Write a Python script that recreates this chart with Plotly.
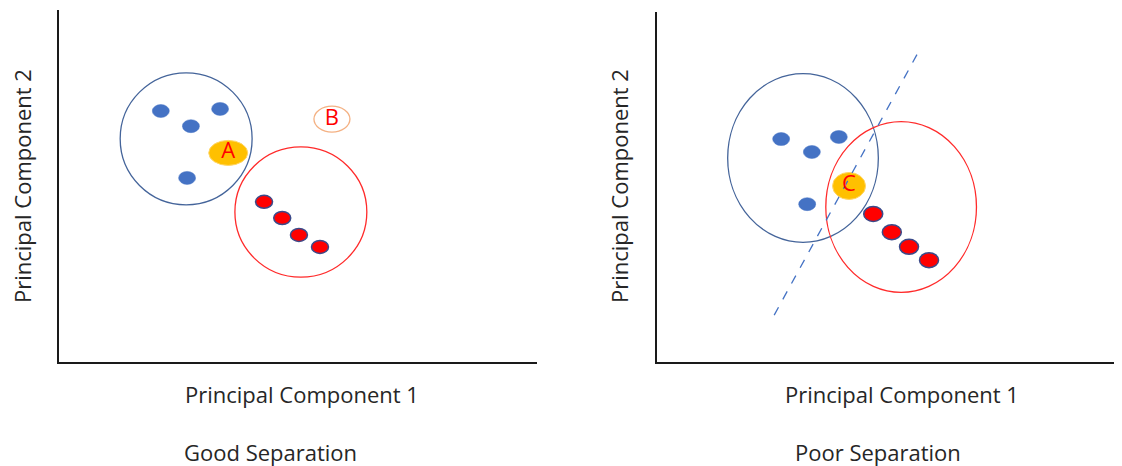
import plotly.graph_objects as go

# ---------------- data (axis units 0..100) ----------------
# Left panel: Good Separation
good_blue_x = [21.3, 27.6, 33.7, 26.8]
good_blue_y = [71.3, 67.0, 71.9, 52.3]
good_red_x = [42.9, 46.7, 50.2, 54.6]
good_red_y = [45.5, 40.9, 36.1, 32.7]
good_labels = ["A", "B"]
good_label_x = [35.4, 57.1]
good_label_y = [59.4, 69.0]
good_cluster_cx = [26.6, 50.6]
good_cluster_cy = [63.4, 42.6]
good_cluster_rx = [13.8, 13.8]
good_cluster_ry = [18.75, 18.5]

# Right panel: Poor Separation
poor_blue_x = [26.7, 33.3, 39.1, 32.3]
poor_blue_y = [63.7, 60.0, 64.3, 45.1]
poor_red_x = [46.5, 50.5, 54.2, 58.5]
poor_red_y = [42.3, 37.1, 32.9, 29.1]
poor_labels = ["C"]
poor_label_x = [41.3]
poor_label_y = [50.3]
poor_cluster_cx = [31.4, 52.5]
poor_cluster_cy = [58.3, 44.3]
poor_cluster_rx = [16.2, 16.2]
poor_cluster_ry = [24.1, 24.4]
poor_line_x = [25.2, 56.1]
poor_line_y = [13.4, 88.3]

x_title = "Principal Component 1"
y_title = "Principal Component 2"
panel_titles = ["Good Separation", "Poor Separation"]

# ---------------- figure ----------------
OFF = 8  # page body margin
W, H = 1122 - OFF, 466 - OFF
FONT = "Open Sans"
TXT = "#262626"

fig = go.Figure()

# axis pixel extents (screen px)
L = dict(x0=59, x1=537, ytop=10, ybot=362)
R = dict(x0=657, x1=1122, ytop=12, ybot=362)

def px(x):
    return (x - OFF) / W

def py(y):
    return 1 - (y - OFF) / H

def ax_scale(p):
    return (p["x1"] - p["x0"]) / 100.0, (p["ybot"] - p["ytop"]) / 100.0

axis_common = dict(range=[0, 100], showgrid=False, zeroline=False, showticklabels=False,
                   ticks="", showline=True, linecolor="#1a1a1a", linewidth=2, fixedrange=True)

fig.update_layout(
    width=W, height=H, margin=dict(l=0, r=0, t=0, b=0),
    paper_bgcolor="white", plot_bgcolor="white", showlegend=False,
    xaxis=dict(domain=[px(L["x0"]), px(L["x1"])], anchor="y", **axis_common),
    yaxis=dict(domain=[py(L["ybot"]), py(L["ytop"])], anchor="x", **axis_common),
    xaxis2=dict(domain=[px(R["x0"]), 1.0], anchor="y2", **axis_common),
    yaxis2=dict(domain=[py(R["ybot"]), py(R["ytop"])], anchor="x2", **axis_common),
)

shapes = []

def ellipse(xref, yref, cx, cy, rx, ry, fill, line_color, line_width):
    shapes.append(dict(type="circle", xref=xref, yref=yref,
                       x0=cx - rx, x1=cx + rx, y0=cy - ry, y1=cy + ry,
                       fillcolor=fill, line=dict(color=line_color, width=line_width), layer="below"))

def dots(xref, yref, p, xs, ys, wpx, hpx, fill, line_color, line_width):
    sx, sy = ax_scale(p)
    for x, y in zip(xs, ys):
        ellipse(xref, yref, x, y, wpx / 2 / sx, hpx / 2 / sy, fill, line_color, line_width)

BLUE_RING = "#44649A"
RED_RING = "#FF2A2A"
DOT_BLUE = "#4472C4"
DOT_RED = "#FF0000"
DOT_RED_EDGE = "#3B4A8A"
GOLD = "#FFC000"

# left cluster circles
for cx, cy, rx, ry, col in zip(good_cluster_cx, good_cluster_cy, good_cluster_rx, good_cluster_ry,
                               [BLUE_RING, RED_RING]):
    ellipse("x", "y", cx, cy, rx, ry, "rgba(0,0,0,0)", col, 1.3)
dots("x", "y", L, good_blue_x, good_blue_y, 17, 13, DOT_BLUE, DOT_BLUE, 0.5)
dots("x", "y", L, good_red_x, good_red_y, 17, 13, DOT_RED, DOT_RED_EDGE, 1.5)
sx, sy = ax_scale(L)
# A (filled) and B (outlined)
ellipse("x", "y", good_label_x[0], good_label_y[0], 39 / 2 / sx, 25 / 2 / sy, GOLD, "#FFD666", 1)
ellipse("x", "y", good_label_x[1], good_label_y[1], 36 / 2 / sx, 26 / 2 / sy, "white", "#F4B183", 1.3)

# right cluster ellipses
for cx, cy, rx, ry, col in zip(poor_cluster_cx, poor_cluster_cy, poor_cluster_rx, poor_cluster_ry,
                               [BLUE_RING, RED_RING]):
    ellipse("x2", "y2", cx, cy, rx, ry, "rgba(0,0,0,0)", col, 1.3)
dots("x2", "y2", R, poor_blue_x, poor_blue_y, 17, 13, DOT_BLUE, DOT_BLUE, 0.5)
dots("x2", "y2", R, poor_red_x, poor_red_y, 19, 15, DOT_RED, DOT_RED_EDGE, 1.5)
sx2, sy2 = ax_scale(R)
ellipse("x2", "y2", poor_label_x[0], poor_label_y[0], 33 / 2 / sx2, 27 / 2 / sy2, GOLD, "#FFD666", 1)

fig.update_layout(shapes=shapes)

# dashed separating line
fig.add_trace(go.Scatter(x=poor_line_x, y=poor_line_y, xaxis="x2", yaxis="y2", mode="lines",
                         line=dict(color="#4472C4", width=1.3, dash="dash"), hoverinfo="skip"))

# point labels A, B, C
fig.add_trace(go.Scatter(x=good_label_x, y=good_label_y, xaxis="x", yaxis="y", mode="text",
                         text=good_labels, textfont=dict(family=FONT, size=22, color="#FF0000"),
                         hoverinfo="skip"))
fig.add_trace(go.Scatter(x=poor_label_x, y=poor_label_y, xaxis="x2", yaxis="y2", mode="text",
                         text=poor_labels, textfont=dict(family=FONT, size=22, color="#FF0000"),
                         hoverinfo="skip"))

ann = []
def text(x, y, s, angle=0):
    ann.append(dict(xref="paper", yref="paper", x=px(x), y=py(y), text=s, showarrow=False,
                    textangle=angle, xanchor="center", yanchor="middle",
                    font=dict(family=FONT, size=22, color=TXT)))

text(302, 394, x_title)
text(902, 394, x_title)
text(22, 186, y_title, -90)
text(619, 186, y_title, -90)
text(270, 452, panel_titles[0])
text(878, 452, panel_titles[1])
fig.update_layout(annotations=ann)

fig.write_html("out.html")
